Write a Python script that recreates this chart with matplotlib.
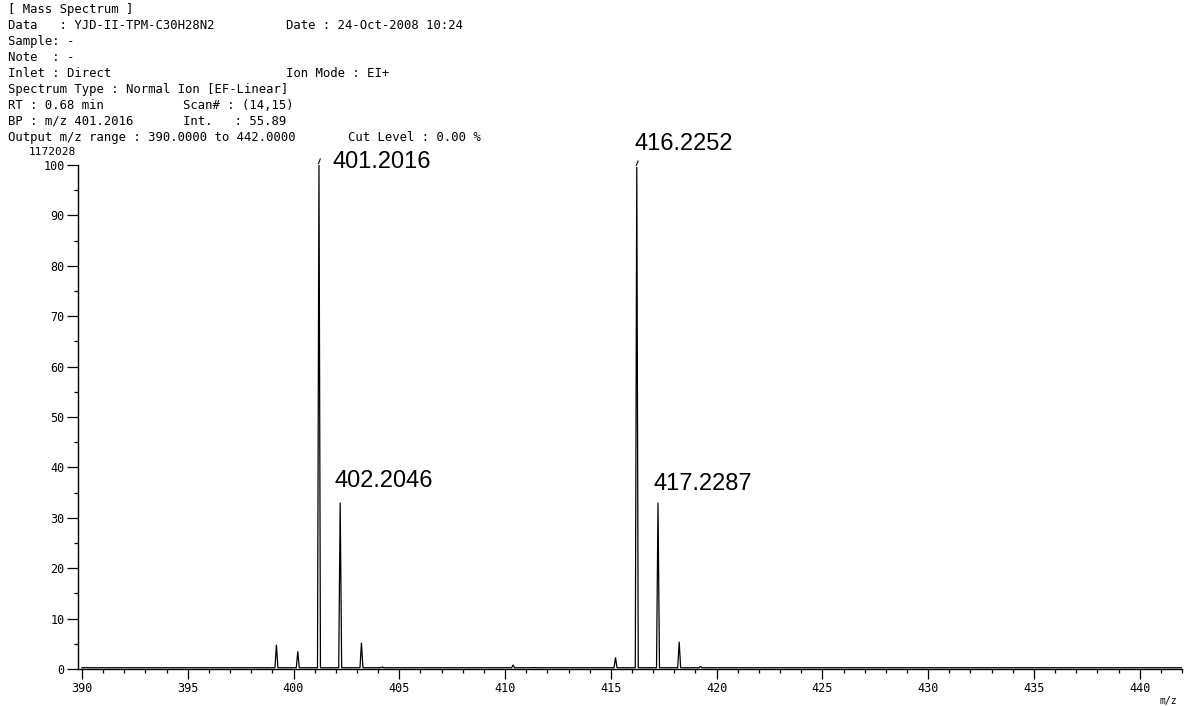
import numpy as np
import matplotlib
matplotlib.use("Agg")
import matplotlib.pyplot as plt
from matplotlib.ticker import MultipleLocator

# --- Spectrum data (EI+, centroid m/z and relative intensity %) ---
peak_mz = [399.19, 400.20, 401.2016, 402.2046, 403.21, 404.20,
           410.38, 411.37, 415.22, 416.2252, 417.2287, 418.23, 419.24]
peak_int = [4.8, 3.5, 100.0, 33.0, 5.2, 0.4,
            0.8, 0.3, 2.3, 99.6, 33.0, 5.4, 0.5]

# labelled peaks and where their text sits relative to the peak top (pixels)
label_mz = [401.2016, 402.2046, 416.2252, 417.2287]
label_offset = [(14, -3), (-6, 16), (-2, 17), (-5, 13)]
marked_mz = [401.2016, 416.2252]

header_left = [
    "[ Mass Spectrum ]",
    "Data   : YJD-II-TPM-C30H28N2",
    "Sample: -",
    "Note  : -",
    "Inlet : Direct",
    "Spectrum Type : Normal Ion [EF-Linear]",
    "RT : 0.68 min",
    "BP : m/z 401.2016",
    "Output m/z range : 390.0000 to 442.0000",
]
header_extra = [  # (line index, x pixel, text)
    (1, 286, "Date : 24-Oct-2008 10:24"),
    (4, 286, "Ion Mode : EI+"),
    (6, 183, "Scan# : (14,15)"),
    (7, 183, "Int.   : 55.89"),
    (8, 348, "Cut Level : 0.00 %"),
]
base_peak_counts = "1172028"

mz_min, mz_max = 390.0, 442.0
baseline = 0.25
half_width = 0.07

W, H = 1184, 706
fig = plt.figure(figsize=(W / 100, H / 100), dpi=100)
ax = fig.add_axes([78 / W, (H - 669) / H, 1104 / W, 504 / H])

# profile trace: flat baseline with a narrow triangle per peak
xs, ys = [mz_min], [baseline]
for m, h in zip(peak_mz, peak_int):
    xs += [m - half_width, m, m + half_width]
    ys += [baseline, h, baseline]
xs.append(mz_max)
ys.append(baseline)
ax.plot(xs, ys, color="black", lw=0.9, solid_joinstyle="miter")

# small tick marks above the labelled base peaks
for m in marked_mz:
    h = peak_int[peak_mz.index(m)]
    ax.plot([m - 0.02, m + 0.06], [h + 0.3, h + 1.2], color="black", lw=0.8,
            clip_on=False)

for m, (dx, dy) in zip(label_mz, label_offset):
    h = peak_int[peak_mz.index(m)]
    ax.annotate(f"{m:.4f}", xy=(m, h), xytext=(dx, dy),
                textcoords="offset pixels", ha="left", va="baseline",
                fontsize=17, family="Liberation Sans", annotation_clip=False)

ax.set_xlim(389.81, mz_max)
ax.set_ylim(0, 100)

for side in ["top", "right"]:
    ax.spines[side].set_visible(False)
ax.spines["left"].set_bounds(0, 100)
for side in ["left", "bottom"]:
    ax.spines[side].set_linewidth(1.0)

ax.xaxis.set_major_locator(MultipleLocator(5))
ax.xaxis.set_minor_locator(MultipleLocator(1))
ax.yaxis.set_major_locator(MultipleLocator(10))
ax.yaxis.set_minor_locator(MultipleLocator(5))
ax.set_xticks(np.arange(390, 441, 5))

ax.tick_params(axis="both", which="major", length=7, width=0.9,
               labelsize=8.5, direction="out", color="black")
ax.tick_params(axis="both", which="minor", length=3, width=0.9,
               direction="out")
ax.tick_params(axis="y", which="major", length=8, pad=1.5)
ax.tick_params(axis="x", which="major", pad=2.5)
for lbl in ax.get_xticklabels() + ax.get_yticklabels():
    lbl.set_family("DejaVu Sans Mono")

# header block
line_y = [10 + 15.9 * i for i in range(len(header_left))]
for y, txt in zip(line_y, header_left):
    fig.text(8 / W, 1 - y / H, txt, ha="left", va="center",
             fontsize=8.8, family="DejaVu Sans Mono")
for i, x, txt in header_extra:
    fig.text(x / W, 1 - line_y[i] / H, txt, ha="left", va="center",
             fontsize=8.8, family="DejaVu Sans Mono")

fig.text(76 / W, 1 - 152 / H, base_peak_counts, ha="right", va="center",
         fontsize=8, family="DejaVu Sans Mono")
fig.text(1160 / W, 1 - 701 / H, "m/z", ha="left", va="center",
         fontsize=7, family="DejaVu Sans Mono")

fig.savefig("out.png", dpi=100, facecolor="white")
